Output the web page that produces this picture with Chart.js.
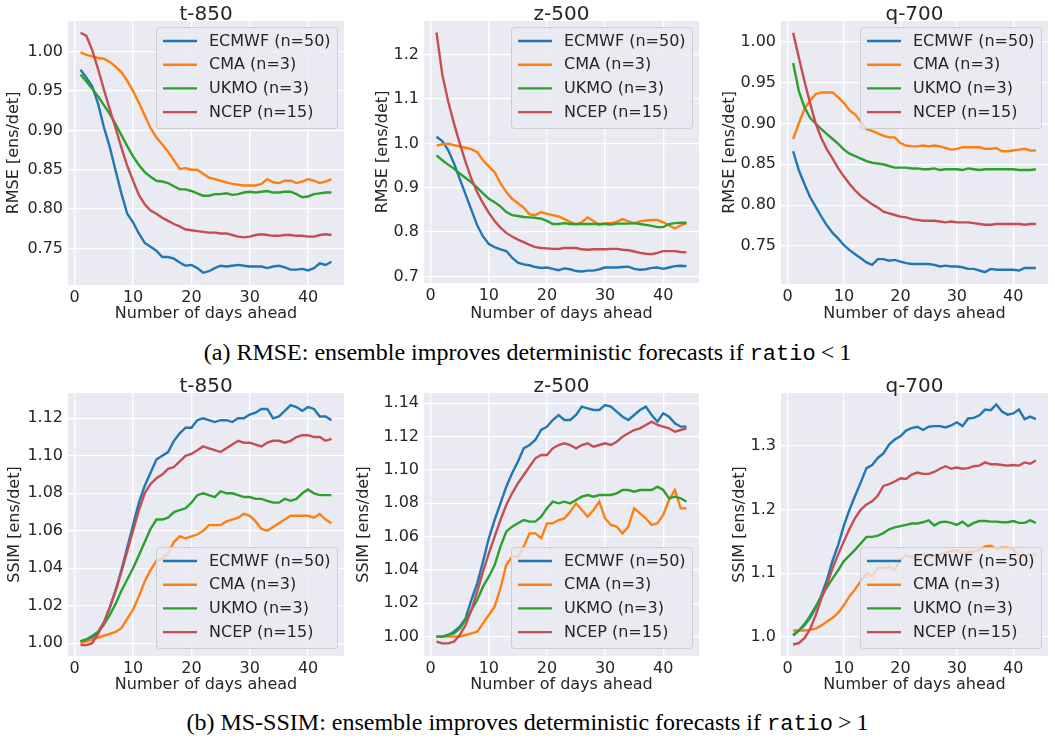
<!DOCTYPE html>
<html>
<head>
<meta charset="utf-8">
<script src="https://cdn.jsdelivr.net/npm/chart.js@4.4.1/dist/chart.umd.min.js"></script>
<style>
  body { margin: 0; background: #fff; width: 1055px; height: 742px; position: relative; overflow: hidden; }
  canvas { position: absolute; }
  .cap { position: absolute; left: 0; width: 1055px; text-align: center;
         font-family: "Liberation Serif", "DejaVu Serif", serif; font-size: 24px; line-height: 26px; color: #000; }
  .cap code { font-family: "Liberation Mono", "DejaVu Sans Mono", monospace; font-size: 22px; }
  .cap .rel { padding: 0 5px; }
</style>
</head>
<body>
<div class="cap" style="top:339px">(a) RMSE: ensemble improves deterministic forecasts if <code>ratio</code><span class="rel">&lt;</span>1</div>
<div class="cap" style="top:709px">(b) MS-SSIM: ensemble improves deterministic forecasts if <code>ratio</code><span class="rel">&gt;</span>1</div>
<script>
// Lead time in days
const days = Array.from({length: 44}, (_, i) => i + 1);
const xTicks = [0, 10, 20, 30, 40];

const models = ['ECMWF (n=50)', 'CMA (n=3)', 'UKMO (n=3)', 'NCEP (n=15)'];
const colors = ['#1f77b4', '#ff7f0e', '#2ca02c', '#c44e52'];

// RMSE ratio (ensemble / deterministic), t-850
const rmseT850Ecmwf = [0.977,0.967,0.956,0.934,0.904,0.879,0.849,0.820,0.794,0.783,0.769,0.757,0.752,0.747,0.739,0.739,0.737,0.732,0.728,0.729,0.725,0.719,0.721,0.725,0.728,0.727,0.728,0.729,0.728,0.727,0.727,0.727,0.725,0.727,0.728,0.726,0.723,0.723,0.724,0.722,0.725,0.731,0.729,0.733];
const rmseT850Cma   = [0.999,0.996,0.994,0.992,0.991,0.987,0.981,0.974,0.963,0.950,0.935,0.919,0.903,0.891,0.882,0.873,0.862,0.851,0.852,0.850,0.850,0.845,0.840,0.838,0.836,0.834,0.832,0.831,0.830,0.830,0.830,0.832,0.838,0.834,0.833,0.836,0.836,0.833,0.835,0.838,0.836,0.833,0.835,0.838];
const rmseT850Ukmo  = [0.971,0.962,0.953,0.943,0.932,0.921,0.908,0.894,0.880,0.867,0.856,0.847,0.841,0.836,0.835,0.833,0.829,0.825,0.825,0.823,0.820,0.817,0.817,0.819,0.819,0.820,0.818,0.819,0.821,0.822,0.821,0.822,0.823,0.821,0.821,0.822,0.822,0.819,0.815,0.816,0.819,0.820,0.821,0.821];
const rmseT850Ncep  = [1.024,1.020,1.002,0.978,0.952,0.927,0.903,0.878,0.855,0.836,0.818,0.806,0.798,0.794,0.789,0.785,0.781,0.778,0.774,0.773,0.772,0.771,0.770,0.770,0.769,0.769,0.767,0.765,0.764,0.765,0.767,0.768,0.767,0.766,0.766,0.767,0.767,0.766,0.766,0.765,0.765,0.767,0.768,0.767];

// RMSE ratio, z-500
const rmseZ500Ecmwf = [1.015,1.005,0.985,0.955,0.920,0.885,0.850,0.815,0.790,0.773,0.766,0.761,0.757,0.742,0.731,0.727,0.725,0.721,0.719,0.720,0.717,0.714,0.718,0.716,0.712,0.711,0.713,0.713,0.716,0.720,0.720,0.720,0.721,0.722,0.717,0.715,0.716,0.719,0.720,0.717,0.720,0.723,0.724,0.723];
const rmseZ500Cma   = [0.995,0.998,0.999,0.996,0.993,0.990,0.987,0.980,0.962,0.948,0.935,0.910,0.890,0.875,0.865,0.855,0.840,0.838,0.845,0.841,0.838,0.835,0.829,0.823,0.817,0.822,0.833,0.825,0.816,0.820,0.820,0.823,0.829,0.824,0.820,0.824,0.826,0.827,0.827,0.822,0.815,0.808,0.815,0.820];
const rmseZ500Ukmo  = [0.973,0.962,0.952,0.943,0.932,0.922,0.912,0.900,0.887,0.875,0.867,0.858,0.845,0.838,0.836,0.834,0.833,0.832,0.830,0.825,0.818,0.818,0.820,0.818,0.818,0.818,0.818,0.818,0.818,0.818,0.817,0.819,0.819,0.819,0.820,0.818,0.816,0.814,0.811,0.811,0.818,0.820,0.821,0.821];
const rmseZ500Ncep  = [1.250,1.155,1.095,1.045,1.000,0.958,0.920,0.890,0.865,0.843,0.825,0.810,0.798,0.790,0.783,0.777,0.771,0.766,0.764,0.763,0.762,0.762,0.764,0.764,0.764,0.761,0.760,0.761,0.761,0.761,0.762,0.762,0.760,0.759,0.756,0.753,0.751,0.750,0.753,0.757,0.757,0.757,0.755,0.754];

// RMSE ratio, q-700
const rmseQ700Ecmwf = [0.866,0.843,0.826,0.810,0.798,0.786,0.775,0.766,0.759,0.751,0.745,0.740,0.735,0.730,0.727,0.734,0.734,0.732,0.733,0.731,0.729,0.728,0.728,0.728,0.728,0.727,0.725,0.726,0.725,0.725,0.724,0.722,0.722,0.720,0.718,0.722,0.721,0.721,0.721,0.721,0.720,0.723,0.723,0.723];
const rmseQ700Cma   = [0.881,0.900,0.918,0.928,0.936,0.938,0.938,0.938,0.932,0.925,0.916,0.911,0.902,0.893,0.891,0.888,0.885,0.883,0.883,0.876,0.873,0.872,0.872,0.873,0.872,0.873,0.872,0.870,0.868,0.869,0.871,0.871,0.871,0.871,0.869,0.869,0.870,0.866,0.866,0.867,0.868,0.869,0.867,0.867];
const rmseQ700Ukmo  = [0.974,0.940,0.920,0.907,0.900,0.893,0.887,0.881,0.875,0.868,0.863,0.860,0.857,0.854,0.852,0.851,0.850,0.848,0.846,0.846,0.846,0.845,0.845,0.844,0.844,0.845,0.843,0.844,0.844,0.844,0.843,0.845,0.844,0.843,0.844,0.844,0.844,0.844,0.844,0.844,0.843,0.843,0.843,0.844];
const rmseQ700Ncep  = [1.011,0.981,0.952,0.925,0.900,0.882,0.868,0.857,0.845,0.835,0.826,0.818,0.811,0.806,0.801,0.797,0.792,0.790,0.788,0.786,0.785,0.783,0.782,0.781,0.781,0.781,0.780,0.779,0.780,0.779,0.779,0.779,0.778,0.777,0.776,0.776,0.777,0.777,0.777,0.777,0.777,0.776,0.777,0.777];

// MS-SSIM ratio, t-850
const ssimT850Ecmwf = [1.001,1.002,1.003,1.006,1.011,1.019,1.028,1.039,1.051,1.063,1.075,1.084,1.091,1.098,1.100,1.102,1.108,1.112,1.115,1.115,1.119,1.120,1.119,1.118,1.119,1.119,1.118,1.120,1.120,1.122,1.123,1.125,1.125,1.120,1.121,1.124,1.127,1.126,1.124,1.126,1.125,1.121,1.121,1.119];
const ssimT850Cma   = [1.000,1.001,1.002,1.003,1.004,1.005,1.006,1.008,1.013,1.018,1.025,1.033,1.039,1.044,1.045,1.048,1.054,1.057,1.056,1.057,1.058,1.060,1.063,1.063,1.063,1.065,1.066,1.067,1.069,1.068,1.065,1.061,1.060,1.062,1.064,1.066,1.068,1.068,1.068,1.068,1.067,1.069,1.066,1.064];
const ssimT850Ukmo  = [1.001,1.002,1.004,1.006,1.010,1.015,1.021,1.028,1.034,1.040,1.047,1.054,1.061,1.066,1.066,1.067,1.070,1.071,1.072,1.075,1.079,1.080,1.079,1.078,1.081,1.080,1.080,1.079,1.078,1.078,1.077,1.077,1.076,1.075,1.075,1.077,1.076,1.077,1.080,1.082,1.080,1.079,1.079,1.079];
const ssimT850Ncep  = [0.999,0.999,1.000,1.005,1.011,1.019,1.028,1.038,1.049,1.060,1.071,1.080,1.085,1.088,1.090,1.093,1.094,1.097,1.100,1.101,1.103,1.105,1.104,1.103,1.102,1.104,1.106,1.108,1.107,1.107,1.106,1.105,1.107,1.108,1.108,1.107,1.108,1.110,1.111,1.111,1.110,1.110,1.108,1.109];

// MS-SSIM ratio, z-500
const ssimZ500Ecmwf = [1.000,1.000,1.001,1.003,1.006,1.011,1.022,1.032,1.045,1.059,1.070,1.080,1.090,1.098,1.105,1.113,1.115,1.118,1.124,1.126,1.130,1.133,1.130,1.130,1.133,1.138,1.137,1.136,1.136,1.139,1.138,1.135,1.132,1.130,1.133,1.136,1.138,1.133,1.129,1.134,1.132,1.128,1.126,1.126];
const ssimZ500Cma   = [1.000,1.000,1.000,1.000,1.000,1.001,1.002,1.003,1.008,1.013,1.018,1.029,1.043,1.048,1.048,1.054,1.062,1.062,1.059,1.068,1.068,1.070,1.071,1.075,1.080,1.076,1.072,1.076,1.081,1.071,1.067,1.066,1.062,1.066,1.077,1.074,1.071,1.067,1.068,1.073,1.082,1.088,1.077,1.077];
const ssimZ500Ukmo  = [1.000,1.000,1.001,1.002,1.005,1.010,1.016,1.022,1.030,1.036,1.043,1.054,1.063,1.066,1.068,1.070,1.069,1.069,1.072,1.077,1.081,1.080,1.081,1.080,1.082,1.084,1.085,1.084,1.085,1.085,1.085,1.086,1.088,1.088,1.087,1.088,1.088,1.088,1.090,1.088,1.083,1.084,1.083,1.081];
const ssimZ500Ncep  = [0.997,0.996,0.996,0.997,1.001,1.007,1.016,1.027,1.039,1.050,1.060,1.070,1.079,1.086,1.092,1.097,1.102,1.107,1.109,1.109,1.113,1.115,1.116,1.115,1.113,1.115,1.116,1.114,1.115,1.116,1.115,1.117,1.120,1.122,1.124,1.125,1.127,1.129,1.127,1.126,1.125,1.123,1.124,1.125];

// MS-SSIM ratio, q-700
const ssimQ700Ecmwf = [1.002,1.010,1.018,1.030,1.046,1.065,1.090,1.120,1.145,1.175,1.200,1.222,1.243,1.265,1.270,1.281,1.288,1.302,1.310,1.315,1.324,1.328,1.330,1.325,1.330,1.331,1.331,1.329,1.332,1.337,1.331,1.343,1.344,1.348,1.357,1.356,1.365,1.354,1.349,1.351,1.357,1.342,1.346,1.342];
const ssimQ700Cma   = [1.010,1.010,1.010,1.011,1.013,1.018,1.024,1.030,1.038,1.050,1.064,1.075,1.088,1.100,1.095,1.108,1.108,1.110,1.105,1.122,1.128,1.125,1.126,1.130,1.126,1.128,1.130,1.132,1.135,1.136,1.130,1.133,1.134,1.137,1.142,1.143,1.138,1.140,1.140,1.137,1.128,1.127,1.129,1.129];
const ssimQ700Ukmo  = [1.003,1.010,1.020,1.033,1.048,1.063,1.078,1.092,1.105,1.119,1.128,1.137,1.147,1.157,1.157,1.159,1.163,1.169,1.172,1.174,1.176,1.178,1.178,1.180,1.183,1.175,1.180,1.181,1.179,1.176,1.181,1.174,1.179,1.182,1.182,1.181,1.181,1.180,1.180,1.182,1.179,1.179,1.183,1.179];
const ssimQ700Ncep  = [0.988,0.990,0.998,1.012,1.034,1.060,1.083,1.108,1.130,1.150,1.170,1.187,1.200,1.208,1.213,1.222,1.237,1.240,1.244,1.249,1.248,1.255,1.258,1.256,1.256,1.259,1.264,1.268,1.264,1.266,1.264,1.265,1.268,1.269,1.274,1.271,1.271,1.270,1.269,1.270,1.269,1.274,1.272,1.277];

// y tick values per panel
const rmseT850Ticks = [0.75, 0.80, 0.85, 0.90, 0.95, 1.00];
const rmseZ500Ticks = [0.7, 0.8, 0.9, 1.0, 1.1, 1.2];
const rmseQ700Ticks = [0.75, 0.80, 0.85, 0.90, 0.95, 1.00];
const ssimT850Ticks = [1.00, 1.02, 1.04, 1.06, 1.08, 1.10, 1.12];
const ssimZ500Ticks = [1.00, 1.02, 1.04, 1.06, 1.08, 1.10, 1.12, 1.14];
const ssimQ700Ticks = [1.0, 1.1, 1.2, 1.3];

const FONT = "'DejaVu Sans', 'Liberation Sans', sans-serif";
const TEXT = '#262626';
const PANEL_BG = '#eaeaf2';

const panels = [
  { title: 't-850', ylabel: 'RMSE [ens/det]', top: 0,   plotL: 68,  plotR: 344,  plotT: 21,  plotB: 285, ytitleX: 14,
    series: [rmseT850Ecmwf, rmseT850Cma, rmseT850Ukmo, rmseT850Ncep], ticks: rmseT850Ticks, dec: 2, ymin: 0.7035, ymax: 1.039, legend: 'top' },
  { title: 'z-500', ylabel: 'RMSE [ens/det]', top: 0,   plotL: 424, plotR: 699,  plotT: 21,  plotB: 283, ytitleX: 383,
    series: [rmseZ500Ecmwf, rmseZ500Cma, rmseZ500Ukmo, rmseZ500Ncep], ticks: rmseZ500Ticks, dec: 1, ymin: 0.685, ymax: 1.276, legend: 'top' },
  { title: 'q-700', ylabel: 'RMSE [ens/det]', top: 0,   plotL: 781, plotR: 1048, plotT: 21,  plotB: 284, ytitleX: 730,
    series: [rmseQ700Ecmwf, rmseQ700Cma, rmseQ700Ukmo, rmseQ700Ncep], ticks: rmseQ700Ticks, dec: 2, ymin: 0.7035, ymax: 1.0255, legend: 'top' },
  { title: 't-850', ylabel: 'SSIM [ens/det]', top: 370, plotL: 68,  plotR: 344,  plotT: 393, plotB: 656, ytitleX: 15,
    series: [ssimT850Ecmwf, ssimT850Cma, ssimT850Ukmo, ssimT850Ncep], ticks: ssimT850Ticks, dec: 2, ymin: 0.9932, ymax: 1.1335, legend: 'bottom' },
  { title: 'z-500', ylabel: 'SSIM [ens/det]', top: 370, plotL: 424, plotR: 699,  plotT: 393, plotB: 656, ytitleX: 364,
    series: [ssimZ500Ecmwf, ssimZ500Cma, ssimZ500Ukmo, ssimZ500Ncep], ticks: ssimZ500Ticks, dec: 2, ymin: 0.9884, ymax: 1.1462, legend: 'bottom' },
  { title: 'q-700', ylabel: 'SSIM [ens/det]', top: 370, plotL: 781, plotR: 1048, plotT: 393, plotB: 656, ytitleX: 740,
    series: [ssimQ700Ecmwf, ssimQ700Cma, ssimQ700Ukmo, ssimQ700Ncep], ticks: ssimQ700Ticks, dec: 1, ymin: 0.970, ymax: 1.383, legend: 'bottom' }
];

// Fills the axes background
const panelBackground = {
  id: 'panelBackground',
  beforeDraw(chart) {
    const {ctx, chartArea: a} = chart;
    ctx.save();
    ctx.fillStyle = PANEL_BG;
    ctx.fillRect(a.left, a.top, a.right - a.left, a.bottom - a.top);
    ctx.restore();
  }
};

// Axes title above the plot area
const panelTitle = {
  id: 'panelTitle',
  afterDraw(chart, args, opts) {
    const {ctx, chartArea: a} = chart;
    ctx.save();
    ctx.font = '20px ' + FONT;
    ctx.fillStyle = TEXT;
    ctx.textAlign = 'center';
    ctx.textBaseline = 'alphabetic';
    ctx.fillText(opts.text, (a.left + a.right) / 2, a.top - 1);
    ctx.restore();
  }
};

// Framed legend inside the plot area (upper or lower right)
const boxLegend = {
  id: 'boxLegend',
  afterDatasetsDraw(chart, args, opts) {
    const {ctx, chartArea: a} = chart;
    const w = 181, h = 101, r = 3;
    const x = a.right - 7 - w;
    const y = opts.where === 'top' ? a.top + 6 : a.bottom - 8 - h;
    ctx.save();
    ctx.beginPath();
    ctx.roundRect(x + 0.5, y + 0.5, w, h, r);
    ctx.fillStyle = 'rgba(234,234,242,0.8)';
    ctx.fill();
    ctx.strokeStyle = '#cccccc';
    ctx.lineWidth = 1;
    ctx.stroke();
    ctx.font = '16px ' + FONT;
    ctx.textBaseline = 'middle';
    ctx.textAlign = 'left';
    chart.data.datasets.forEach((ds, i) => {
      const cy = y + 14 + i * 23.7;
      ctx.beginPath();
      ctx.moveTo(x + 7, cy);
      ctx.lineTo(x + 41, cy);
      ctx.strokeStyle = ds.borderColor;
      ctx.lineWidth = 2.4;
      ctx.stroke();
      ctx.fillStyle = TEXT;
      ctx.fillText(ds.label, x + 53, cy + 0.5);
    });
    ctx.restore();
  }
};

function makePanel(p) {
  const canvasH = 330;
  const left = p.ytitleX - 12;
  const axisW = p.plotL - left;
  const width = p.plotR - left + 4;
  const xAxisH = canvasH - (p.plotB - p.top);
  const xTitleBottomPad = p.top === 0 ? 6.4 : 5.4;

  const c = document.createElement('canvas');
  c.width = width; c.height = canvasH;
  c.style.left = left + 'px'; c.style.top = p.top + 'px';
  c.style.width = width + 'px'; c.style.height = canvasH + 'px';
  document.body.appendChild(c);

  const datasets = models.map((label, i) => ({
    label,
    data: days.map((d, j) => ({x: d, y: p.series[i][j]})),
    borderColor: colors[i],
    backgroundColor: colors[i],
    borderWidth: 2.4,
    pointRadius: 0,
    tension: 0,
    fill: false,
    order: models.length - i
  }));

  new Chart(c, {
    type: 'line',
    data: {datasets},
    options: {
      responsive: false,
      animation: false,
      devicePixelRatio: 1,
      layout: {padding: {top: p.plotT - p.top, right: 4, left: 0, bottom: 0}},
      plugins: {
        legend: {display: false},
        tooltip: {enabled: false},
        panelTitle: {text: p.title},
        boxLegend: {where: p.legend}
      },
      scales: {
        x: {
          type: 'linear',
          min: -1.15, max: 46.15,
          afterBuildTicks: s => { s.ticks = xTicks.map(v => ({value: v})); },
          afterFit: s => { s.height = xAxisH; },
          grid: {color: '#ffffff', lineWidth: 1.3, drawTicks: false},
          border: {display: false},
          ticks: {font: {family: FONT, size: 16}, color: TEXT, padding: 3, maxRotation: 0, autoSkip: false,
                  callback: v => String(v)},
          title: {display: true, text: 'Number of days ahead', font: {family: FONT, size: 16}, color: TEXT,
                  padding: {top: 0, bottom: xTitleBottomPad}}
        },
        y: {
          type: 'linear',
          min: p.ymin, max: p.ymax,
          afterBuildTicks: s => { s.ticks = p.ticks.map(v => ({value: v})); },
          afterFit: s => { s.width = axisW; },
          grid: {color: '#ffffff', lineWidth: 1.3, drawTicks: false},
          border: {display: false},
          ticks: {font: {family: FONT, size: 16}, color: TEXT, padding: 5, autoSkip: false,
                  callback: v => Number(v).toFixed(p.dec)},
          title: {display: true, text: p.ylabel, font: {family: FONT, size: 16}, color: TEXT,
                  padding: {top: 2.4, bottom: 0}}
        }
      }
    },
    plugins: [panelBackground, panelTitle, boxLegend]
  });
}

panels.forEach(makePanel);
</script>
</body>
</html>
